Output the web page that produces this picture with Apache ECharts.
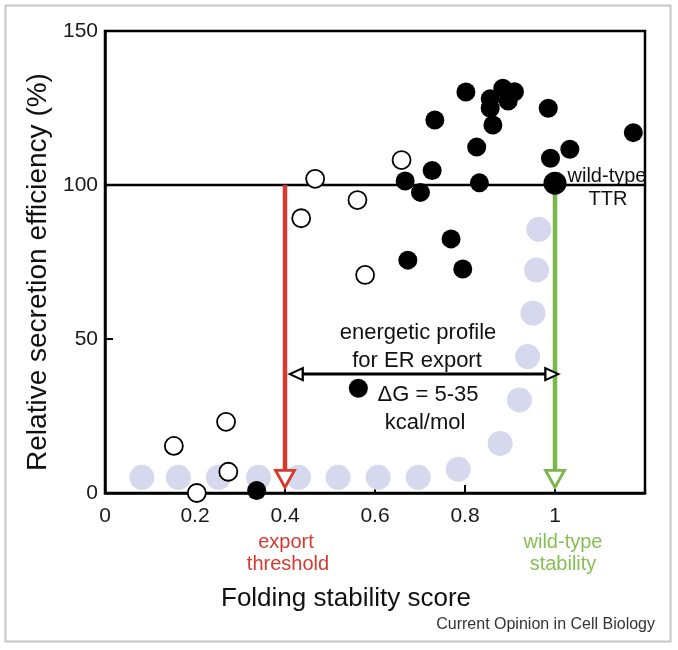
<!DOCTYPE html>
<html><head><meta charset="utf-8">
<script src="https://cdn.jsdelivr.net/npm/echarts@6/dist/echarts.min.js"></script>
<style>html,body{margin:0;padding:0;background:#fff}#c{width:678px;height:650px}</style>
</head><body><div id="c"></div>
<script>
// Filled circles (mutants above export threshold)
const filledX = [0.802, 0.884, 0.910, 0.856, 0.856, 0.896, 0.985, 0.733, 0.862, 1.174, 0.826, 1.033, 0.990, 0.727, 0.667, 0.701, 0.832, 0.769, 0.673, 0.795, 0.563, 0.337];
const filledY = [130.2, 131.4, 130.3, 128.0, 124.9, 127.3, 124.9, 121.1, 119.5, 117.0, 112.3, 111.6, 108.7, 104.7, 101.3, 97.6, 100.7, 82.5, 75.6, 72.7, 34.0, 0.8];
// Open circles
const openX = [0.659, 0.467, 0.561, 0.436, 0.578, 0.269, 0.153, 0.274, 0.204];
const openY = [108.1, 102.0, 95.1, 89.2, 70.8, 23.1, 15.3, 6.9, 0.0];
// Lavender (light) circles
const lavX = [0.082, 0.163, 0.252, 0.341, 0.430, 0.518, 0.607, 0.696, 0.785, 0.878, 0.921, 0.939, 0.951, 0.959, 0.964];
const lavY = [5.1, 5.1, 5.1, 5.1, 5.1, 5.1, 5.1, 5.1, 7.7, 16.1, 30.2, 44.3, 58.4, 72.4, 85.6];
// Wild-type TTR
const ttrX = [1.0];
const ttrY = [100.6];
// Reference levels / annotations
const refLevel = 100;
const xRange = [0, 1.2];
const thresholdX = 0.4;
const wildTypeX = 1.0;
const arrowStemEndY = 7.5;
const arrowHeadY = 4.6;
const profileY = 38.6;
const profileLeftHeadX = 0.425;
const profileRightHeadX = 0.993;
const xTickLabels = {"0":"0","0.2":"0.2","0.4":"0.4","0.6":"0.6","0.8":"0.8","1":"1"};

const RED = '#d63a2e', GREEN = '#79b74a';
const FONT = "'Liberation Sans', Arial, Helvetica, sans-serif";
const zip = (a, b) => a.map((v, i) => [v, b[i]]);

const chart = echarts.init(document.getElementById('c'), null, {renderer: 'canvas'});
chart.setOption({
  animation: false,
  backgroundColor: '#fff',
  grid: {left: 105, top: 31, width: 540, height: 462, show: true, borderColor: '#000', borderWidth: 2.5, backgroundColor: 'transparent'},
  xAxis: {
    type: 'value', min: 0, max: 1.2, interval: 0.2,
    axisLine: {lineStyle: {color: '#000', width: 2.5}},
    axisTick: {inside: true, length: 8, lineStyle: {color: '#000', width: 2}},
    splitLine: {show: false},
    axisLabel: {color: '#1a1a1a', fontSize: 21, fontFamily: FONT, margin: 13,
      formatter: v => { const k = String(Math.round(v * 10) / 10); return xTickLabels[k] !== undefined ? xTickLabels[k] : ''; }}
  },
  yAxis: {
    type: 'value', min: 0, max: 150, interval: 50,
    axisLine: {lineStyle: {color: '#000', width: 2.5}},
    axisTick: {inside: true, length: 8, lineStyle: {color: '#000', width: 2}},
    splitLine: {show: false},
    axisLabel: {color: '#1a1a1a', fontSize: 21, fontFamily: FONT, margin: 7}
  },
  series: [
    {type: 'scatter', data: zip(lavX, lavY), symbolSize: 25, itemStyle: {color: '#d6d8ed', opacity: 1}, z: 1, clip: false, silent: true},
    {type: 'line', data: [[xRange[0], refLevel], [xRange[1], refLevel]], symbol: 'none', lineStyle: {color: '#000', width: 2.5}, z: 2, silent: true},
    {type: 'line', data: [[thresholdX, refLevel], [thresholdX, arrowStemEndY]], symbol: 'none', lineStyle: {color: RED, width: 4.5}, z: 2, silent: true},
    {type: 'line', data: [[wildTypeX, refLevel], [wildTypeX, arrowStemEndY]], symbol: 'none', lineStyle: {color: GREEN, width: 4.5}, z: 2, silent: true},
    {type: 'scatter', data: [[thresholdX, arrowHeadY]], symbol: 'path://M0,0 L20,0 L10,18 Z', symbolSize: [19, 17],
      itemStyle: {color: '#fff', borderColor: RED, borderWidth: 2.8, opacity: 1}, z: 3, clip: false, silent: true},
    {type: 'scatter', data: [[wildTypeX, arrowHeadY]], symbol: 'path://M0,0 L20,0 L10,18 Z', symbolSize: [19, 17],
      itemStyle: {color: '#fff', borderColor: GREEN, borderWidth: 2.8, opacity: 1}, z: 3, clip: false, silent: true},
    {type: 'line', data: [[profileLeftHeadX, profileY], [profileRightHeadX, profileY]], symbol: 'none', lineStyle: {color: '#000', width: 3}, z: 3, silent: true},
    {type: 'scatter', data: [[profileLeftHeadX, profileY]], symbol: 'path://M0,6 L12,0 L12,12 Z', symbolSize: [13, 12],
      itemStyle: {color: '#fff', borderColor: '#000', borderWidth: 2.2, opacity: 1}, z: 4, clip: false, silent: true},
    {type: 'scatter', data: [[profileRightHeadX, profileY]], symbol: 'path://M12,6 L0,0 L0,12 Z', symbolSize: [13, 12],
      itemStyle: {color: '#fff', borderColor: '#000', borderWidth: 2.2, opacity: 1}, z: 4, clip: false, silent: true},
    {type: 'scatter', data: zip(openX, openY), symbolSize: 18, itemStyle: {color: '#fff', borderColor: '#000', borderWidth: 1.8, opacity: 1}, z: 5, clip: false, silent: true},
    {type: 'scatter', data: zip(filledX, filledY), symbolSize: 19, itemStyle: {color: '#000', opacity: 1}, z: 5, clip: false, silent: true},
    {type: 'scatter', data: zip(ttrX, ttrY), symbolSize: 23, itemStyle: {color: '#000', opacity: 1}, z: 5, clip: false, silent: true}
  ],
  graphic: [
    {type: 'rect', shape: {x: 5.5, y: 5.5, width: 665, height: 636}, style: {fill: 'none', stroke: '#c6c6c6', lineWidth: 2}, z: -10},
    {type: 'text', x: 38, y: 272, rotation: Math.PI / 2, style: {text: 'Relative secretion efficiency (%)', font: '28px ' + FONT, fill: '#111', align: 'center', verticalAlign: 'middle'}},
    {type: 'text', x: 346, y: 599, style: {text: 'Folding stability score', font: '26px ' + FONT, fill: '#111', align: 'center', verticalAlign: 'middle'}},
    {type: 'text', x: 655, y: 625, style: {text: 'Current Opinion in Cell Biology', font: '16px ' + FONT, fill: '#333', align: 'right', verticalAlign: 'middle'}},
    {type: 'text', x: 286, y: 542, style: {text: 'export', font: '20px ' + FONT, fill: RED, align: 'center', verticalAlign: 'middle'}},
    {type: 'text', x: 288, y: 564, style: {text: 'threshold', font: '20px ' + FONT, fill: RED, align: 'center', verticalAlign: 'middle'}},
    {type: 'text', x: 563, y: 542, style: {text: 'wild-type', font: '20px ' + FONT, fill: '#86bf55', align: 'center', verticalAlign: 'middle'}},
    {type: 'text', x: 563, y: 564, style: {text: 'stability', font: '20px ' + FONT, fill: '#86bf55', align: 'center', verticalAlign: 'middle'}},
    {type: 'text', x: 607, y: 176, style: {text: 'wild-type', font: '20px ' + FONT, fill: '#111', align: 'center', verticalAlign: 'middle'}},
    {type: 'text', x: 608, y: 199, style: {text: 'TTR', font: '20px ' + FONT, fill: '#111', align: 'center', verticalAlign: 'middle'}},
    {type: 'text', x: 418, y: 333, style: {text: 'energetic profile', font: '22px ' + FONT, fill: '#111', align: 'center', verticalAlign: 'middle'}},
    {type: 'text', x: 417, y: 361, style: {text: 'for ER export', font: '22px ' + FONT, fill: '#111', align: 'center', verticalAlign: 'middle'}},
    {type: 'text', x: 428, y: 395, style: {text: '\u0394G = 5-35', font: '22px ' + FONT, fill: '#111', align: 'center', verticalAlign: 'middle'}},
    {type: 'text', x: 425, y: 423, style: {text: 'kcal/mol', font: '22px ' + FONT, fill: '#111', align: 'center', verticalAlign: 'middle'}}
  ]
});
</script>
</body></html>
